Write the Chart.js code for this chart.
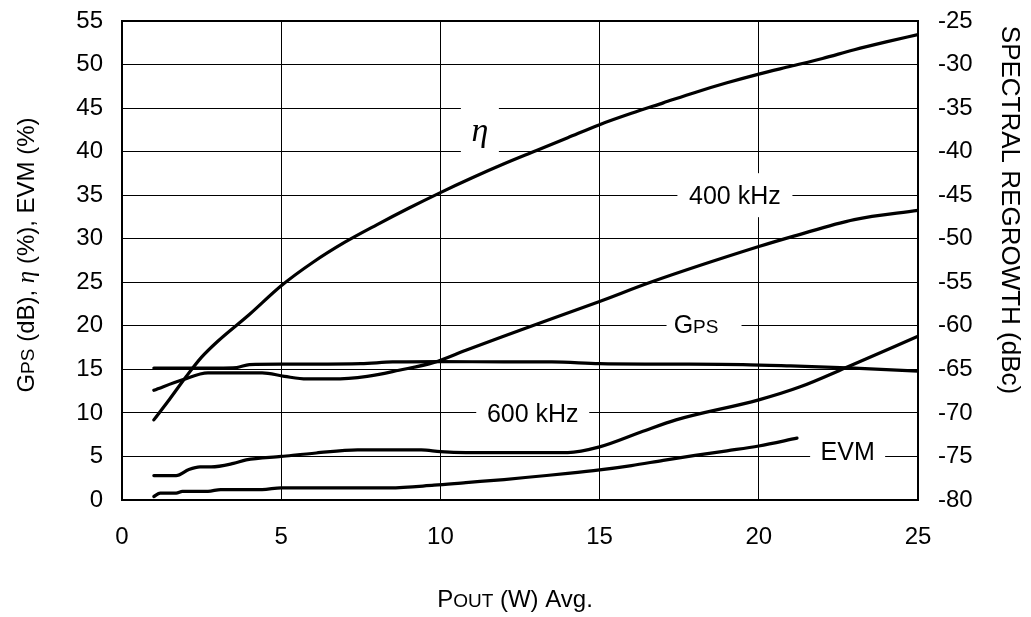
<!DOCTYPE html>
<html><head><meta charset="utf-8">
<script src="https://cdn.jsdelivr.net/npm/chart.js@4/dist/chart.umd.min.js"></script>
<style>html,body{margin:0;padding:0;background:#fff}#wrap{width:1031px;height:617px;position:relative}</style>
</head><body><div id="wrap"><canvas id="c"></canvas></div>
<script>
// ---- data ----
const xTicks = [0, 5, 10, 15, 20, 25];
const etaX = [1,1.5,2,2.5,3,4,5,6,7,8,9,10,11,12,13,14,15,16,17,18,19,20,21,22,23,24,25];
const etaY = [9.2,11.6,14.1,16.4,18.2,21.3,24.6,27.3,29.6,31.6,33.5,35.3,37.0,38.6,40.1,41.6,43.1,44.4,45.6,46.8,47.9,48.9,49.8,50.7,51.7,52.6,53.45];
const gpsX = [1,2,3,3.6,4.0,5,6,7.5,8.5,10,12,13.5,15,17,19.5,21,23,25];
const gpsY = [15.15,15.15,15.15,15.2,15.55,15.6,15.6,15.65,15.85,15.9,15.85,15.85,15.65,15.6,15.55,15.4,15.15,14.8];
const evmX = [1,1.2,1.7,1.9,2.7,3.1,4.4,5.0,8.4,9.8,10.8,12,13,14,15,16,17,18,19,20,21.2];
const evmY = [0.4,0.8,0.8,1.0,1.0,1.2,1.2,1.4,1.4,1.7,2.0,2.35,2.7,3.05,3.45,3.95,4.55,5.12,5.65,6.2,7.1];
const k400X = [1,1.9,2.7,4.4,5.1,5.8,6.6,7.7,8.7,9.8,10.8,11.9,12.5,15,16.6,20,21.1,23,25];
const k400Y = [-67.4,-66.2,-65.4,-65.4,-65.8,-66.1,-66.1,-65.8,-65.1,-64.2,-62.8,-61.3,-60.5,-57.2,-55.0,-50.9,-49.7,-47.8,-46.75];
const k600X = [1,1.7,2.1,2.45,2.8,3.5,3.9,5,6.1,7.4,9.4,10,10.8,14,15,16.3,17.4,20,21.3,22.8,25];
const k600Y = [-77.2,-77.2,-76.5,-76.2,-76.2,-75.8,-75.4,-75.0,-74.6,-74.25,-74.25,-74.45,-74.55,-74.55,-73.9,-72.2,-70.8,-68.5,-67.0,-64.7,-61.2];

const pts = (xs, ys) => xs.map((x, i) => ({x, y: ys[i]}));
const SANS = "'Liberation Sans', Arial, sans-serif";
const SERIF = "'Liberation Serif', 'DejaVu Serif', serif";

function lineDs(label, xs, ys, axis) {
  return {label, data: pts(xs, ys), yAxisID: axis, borderColor: '#000', borderWidth: 3.2,
    pointRadius: 0, fill: false, cubicInterpolationMode: 'monotone', borderCapStyle: 'round', borderJoinStyle: 'round'};
}

function richWidth(ctx, segs) {
  let w = 0;
  for (const [t, f] of segs) { ctx.font = f; w += ctx.measureText(t).width; }
  return w;
}
function drawRich(ctx, segs, cx, cy, rot) {
  ctx.save();
  ctx.translate(cx, cy);
  ctx.rotate(rot);
  ctx.fillStyle = '#000';
  ctx.textBaseline = 'alphabetic';
  const w = richWidth(ctx, segs);
  let x = -w / 2;
  for (const [t, f] of segs) { ctx.font = f; ctx.fillText(t, x, 0); x += ctx.measureText(t).width; }
  ctx.restore();
}

const annot = {
  id: 'annot',
  beforeDatasetsDraw(chart, args, opts) {
    const {ctx, chartArea: a, scales} = chart;
    ctx.save();
    ctx.strokeStyle = '#000'; ctx.lineWidth = 2;
    ctx.strokeRect(a.left, a.top, a.right - a.left, a.bottom - a.top);
    for (const L of opts.labels) {
      const px = scales.x.getPixelForValue(L.x), py = scales.y.getPixelForValue(L.y);
      ctx.fillStyle = '#fff';
      ctx.fillRect(px - L.w / 2, py - L.h / 2, L.w, L.h);
      drawRich(ctx, L.segs, px + (L.dx || 0), py + L.base, 0);
    }
    ctx.restore();
  },
  afterDraw(chart) {
    const {ctx} = chart;
    const big = '24px ' + SANS, small = '19px ' + SANS;
    drawRich(ctx, [['G', big], ['PS', small], [' (dB), ', big], ['\u03B7', 'italic 25px ' + SERIF], [' (%), EVM (%)', big]],
      34, 255, -Math.PI / 2);
    drawRich(ctx, [['SPECTRAL REGROWTH (dBc)', '26px ' + SANS]], 1002, 210, Math.PI / 2);
    drawRich(ctx, [['P', big], ['OUT', small], [' (W) Avg.', big]], 515, 607, 0);
  }
};

const fitY = w => s => { s.width = w; s.paddingTop = 0; s.paddingBottom = 0; };

new Chart(document.getElementById('c'), {
  type: 'line',
  data: {
    datasets: [
      lineDs('\u03B7', etaX, etaY, 'y'),
      lineDs('GPS', gpsX, gpsY, 'y'),
      lineDs('EVM', evmX, evmY, 'y'),
      lineDs('400 kHz', k400X, k400Y, 'y2'),
      lineDs('600 kHz', k600X, k600Y, 'y2')
    ]
  },
  options: {
    responsive: true, maintainAspectRatio: false, animation: false,
    layout: {padding: {top: 21, left: 0, right: 0, bottom: 0}},
    plugins: {
      legend: {display: false}, tooltip: {enabled: false},
      annot: {
        labels: [
          {x: 11.24, y: 42.5, w: 38, h: 52, base: 11, segs: [['\u03B7', 'italic 34px ' + SERIF]]},
          {x: 19.25, y: 35, w: 115, h: 44, base: 9, segs: [['400 kHz', '25px ' + SANS]]},
          {x: 18.28, y: 20, w: 75, h: 40, base: 7, dx: -8, segs: [['G', '25px ' + SANS], ['PS', '19px ' + SANS]]},
          {x: 12.9, y: 10, w: 113, h: 40, base: 9, segs: [['600 kHz', '25px ' + SANS]]},
          {x: 22.79, y: 5, w: 75, h: 40, base: 4, segs: [['EVM', '25px ' + SANS]]}
        ]
      }
    },
    scales: {
      x: {
        type: 'linear', min: 0, max: 25,
        afterBuildTicks: s => { s.ticks = xTicks.map(v => ({value: v})); },
        afterFit: s => { s.height = 117; s.paddingLeft = 0; s.paddingRight = 0; },
        grid: {color: '#000', lineWidth: 1, drawTicks: false},
        border: {display: false},
        ticks: {color: '#000', font: {family: SANS, size: 24}, padding: 23, maxRotation: 0}
      },
      y: {
        position: 'left', min: 0, max: 55,
        afterFit: fitY(122),
        grid: {color: '#000', lineWidth: 1, drawTicks: false},
        border: {display: false},
        ticks: {stepSize: 5, color: '#000', font: {family: SANS, size: 24}, padding: 19}
      },
      y2: {
        position: 'right', min: -80, max: -25,
        afterFit: fitY(113),
        grid: {display: false, drawTicks: false},
        border: {display: false},
        ticks: {stepSize: 5, color: '#000', font: {family: SANS, size: 24}, padding: 20}
      }
    }
  },
  plugins: [annot]
});
</script>
</body></html>
